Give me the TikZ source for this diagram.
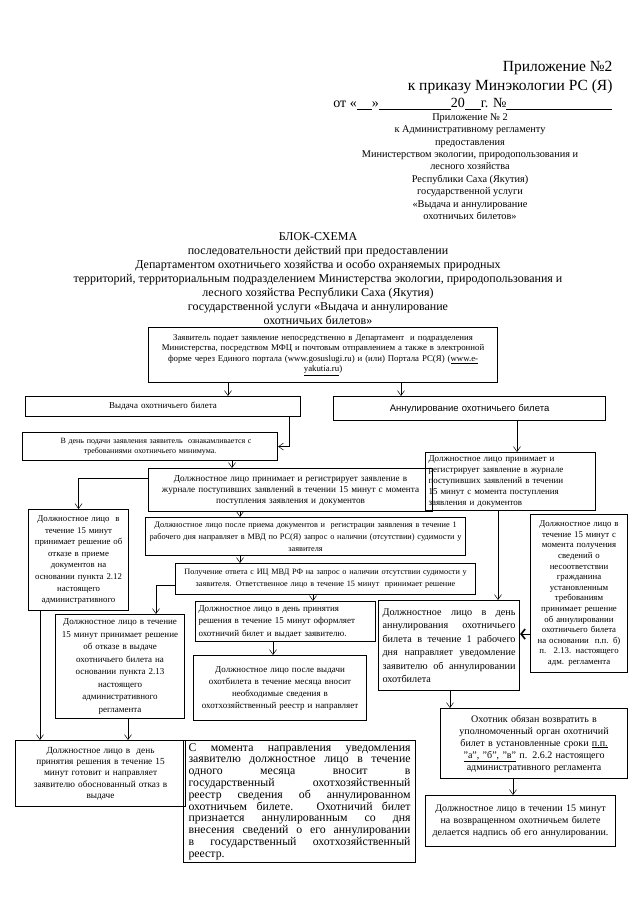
\documentclass[tikz,border=0pt]{standalone}
\usepackage{fontspec}
\setmainfont{Liberation Serif}
\newfontfamily\arialfont{Liberation Sans}
\usetikzlibrary{arrows.meta}

\begin{document}
\begin{tikzpicture}[x=1pt,y=-1pt,
box/.style={draw,line width=1.1pt,inner sep=2pt,anchor=north west,align=center},
arr/.style={-{Straight Barb[length=5pt,width=7pt]},line width=0.5pt},
boldarr/.style={-{Straight Barb[length=4pt,width=10pt,line width=1.6pt]},line width=0.8pt}]
\useasboundingbox (0,0) rectangle (640,898);

% header
\node[anchor=east,font=\fontsize{15.5}{18}\selectfont] (pril) at (616,68) {Приложение №2};
\node[anchor=east,font=\fontsize{15.5}{18}\selectfont] (prikaz) at (616,87) {к приказу Минэкологии РС (Я)};
\node[anchor=east,font=\fontsize{14}{16}\selectfont] (ot) at (616,104)
  {от «\underline{\hspace{15pt}}»\underline{\hspace{72pt}}20\underline{\hspace{16pt}}г. №\underline{\hspace{106pt}}};
\node[anchor=north,align=center,font=\fontsize{10.3}{12.4}\selectfont] (reglament) at (470,110)
  {Приложение № 2\\к Административному регламенту\\предоставления\\Министерством экологии, природопользования и\\лесного хозяйства\\Республики Саха (Якутия)\\государственной услуги\\«Выдача и аннулирование\\охотничьих билетов»};

% title
\node[anchor=north,align=center,font=\fontsize{12}{14}\selectfont] (title) at (318,229)
  {БЛОК-СХЕМА\\последовательности действий при предоставлении\\Департаментом охотничьего хозяйства и особо охраняемых природных\\территорий, территориальным подразделением Министерства экологии, природопользования и\\лесного хозяйства Республики Саха (Якутия)\\государственной услуги «Выдача и аннулирование\\охотничьих билетов»};

% boxes
\node[box,minimum width=349,minimum height=55,text width=343pt,font=\fontsize{8.8}{10.5}\selectfont] (zayav) at (148,327)
  {Заявитель подает заявление непосредственно в Департамент \ и подразделения\\Министерства, посредством МФЦ и почтовым отправлением а также в электронной\\форме через Единого портала (www.gosuslugi.ru) и (или) Портала РС(Я) (\underline{www.e-}\\\underline{yakutia.ru})};
\node[box,minimum width=275,minimum height=20,text width=269pt,font=\fontsize{9}{11}\selectfont] (vydacha) at (25,396) {Выдача охотничьего билета};
\node[box,minimum width=272,minimum height=24,text width=266pt,font=\fontsize{9.5}{11}\arialfont] (annul) at (333,396) {Аннулирование охотничьего билета};
\node[box,minimum width=255,minimum height=28,text width=249pt,font=\fontsize{8}{10}\selectfont] (vden) at (22,432)
  {\hspace*{12pt}В день подачи заявления заявитель \ ознакамливается с\\требованиями охотничьего минимума.\hspace*{20pt}};
\node[box,minimum width=284,minimum height=43,text width=278pt,font=\fontsize{9.2}{11}\selectfont] (reg) at (148,468)
  {Должностное лицо принимает и регистрирует заявление в\\журнале поступивших заявлений в течении 15 минут с момента\\поступления заявления и документов};
\node[box,align=left,minimum width=170,minimum height=58,text width=164pt,font=\fontsize{9}{11}\selectfont] (regR) at (425,452)
  {Должностное лицо принимает и\\регистрирует заявление в журнале\\поступивших заявлений в течении\\15 минут с момента поступления\\заявления и документов};
\node[box,minimum width=100,minimum height=101,text width=94pt,font=\fontsize{8.8}{11.6}\selectfont] (otkazPriem) at (28,509)
  {Должностное лицо \ в\\течение 15 минут\\принимает решение об\\отказе в приеме\\документов на\\основании пункта 2.12\\настоящего\\административного};
\node[box,minimum width=320,minimum height=38,text width=314pt,font=\fontsize{8.3}{12}\selectfont] (posle) at (145,517)
  {Должностное лицо после приема документов и \ регистрации заявления в течение 1\\рабочего дня направляет в МВД по РС(Я) запрос о наличии (отсутствии) судимости у\\заявителя};
\node[box,minimum width=97,minimum height=158,text width=91pt,font=\fontsize{8.8}{10.6}\selectfont] (tallR) at (530,514)
  {Должностное лицо в\\течение 15 минут с\\момента получения\\сведений о\\несоответствии\\гражданина\\установленным\\требованиям\\принимает решение\\об аннулировании\\охотничьего билета\\на основании \ п.п. б)\\п. \ 2.13. настоящего\\адм. регламента};
\node[box,minimum width=300,minimum height=31,text width=294pt,font=\fontsize{8.2}{12}\selectfont] (otvet) at (175,563)
  {Получение ответа с ИЦ МВД РФ на запрос о наличии отсутствии судимости у\\заявителя. Ответственное лицо в течение 15 минут \ принимает решение};
\node[box,minimum width=129,minimum height=104,text width=123pt,font=\fontsize{9}{12.5}\selectfont] (otkazVyd) at (55,614)
  {Должностное лицо в течение\\15 минут принимает решение\\об отказе в выдаче\\охотничьего билета на\\основании пункта 2.13\\настоящего\\административного\\регламента};
\node[box,align=left,minimum width=180,minimum height=40,text width=174pt,font=\fontsize{9}{12.5}\selectfont] (oform) at (195,601)
  {Должностное лицо в день принятия\\решения в течение 15 минут оформляет\\охотничий билет и выдает заявителю.};
\node[box,align=justify,minimum width=141,minimum height=90,inner xsep=4pt,text width=133pt,font=\fontsize{10.2}{13.5}\selectfont] (annulDay) at (378,600)
  {Должностное лицо в день\linebreak аннулирования охотничьего\linebreak билета в течение 1 рабочего\linebreak дня направляет уведомление\linebreak заявителю об аннулировании\linebreak охотбилета};
\node[box,minimum width=173,minimum height=65,text width=167pt,font=\fontsize{9}{12}\selectfont] (posleVyd) at (193,655)
  {Должностное лицо после выдачи\\охотбилета в течение месяца вносит\\необходимые сведения в\\охотхозяйственный реестр и направляет};
\node[box,minimum width=187,minimum height=70,text width=181pt,font=\fontsize{10}{12}\selectfont] (ohotnik) at (440,708)
  {Охотник обязан возвратить в\\уполномоченный орган охотничий\\билет в установленные сроки \underline{п.п.}\\\underline{"а", "б", "в"} п. 2.6.2 настоящего\\административного регламента};
\node[box,minimum width=170,minimum height=66,text width=164pt,font=\fontsize{9.3}{11.3}\selectfont] (bl) at (15,740)
  {Должностное лицо в \ день\\принятия решения в течение 15\\минут готовит и направляет\\заявителю обоснованный отказ в\\выдаче};
\node[box,align=justify,minimum width=232,minimum height=122,inner xsep=5pt,text width=222pt,font=\fontsize{11.8}{11.8}\selectfont] (smoment) at (183,740)
  {С момента направления уведомления\linebreak заявителю должностное лицо в течение\linebreak одного месяца вносит в\linebreak государственный охотхозяйственный\linebreak реестр сведения об аннулированном\linebreak охотничьем билете. Охотничий билет\linebreak признается аннулированным со дня\linebreak внесения сведений о его аннулировании\linebreak в государственный охотхозяйственный\linebreak реестр.};
\node[box,minimum width=190,minimum height=51,text width=184pt,font=\fontsize{10}{12}\selectfont] (br) at (425,795)
  {Должностное лицо в течении 15 минут\\на возвращенном охотничьем билете\\делается надпись об его аннулировании.};

% connectors
\draw[arr] ([xshift=80pt]zayav.south west) -- ([xshift=80pt]zayav.south west |- vydacha.north);
\draw[arr] ([xshift=253pt]zayav.south west) -- ([xshift=253pt]zayav.south west |- annul.north);
\draw[arr] ([xshift=-12pt]vydacha.south east) |- (vden.east);
\draw[arr] ([xshift=210pt]vden.south west) -- ([xshift=210pt]vden.south west |- reg.north);
\draw[arr] ([yshift=-10pt]reg.north west) -| (otkazPriem.north);
\draw[arr] ([xshift=92pt]reg.south west) -- ([xshift=92pt]reg.south west |- posle.north);
\draw[arr] ([xshift=95pt]posle.south west) -- ([xshift=95pt]posle.south west |- otvet.north);
\draw[arr] ([yshift=-22pt]otvet.north west) -| ([xshift=101pt]otkazVyd.north west);
\draw[arr] ([xshift=138pt]otvet.south west) -- ([xshift=138pt]otvet.south west |- oform.north);
\draw[arr] ([xshift=78pt]oform.south west) -- ([xshift=78pt]oform.south west |- posleVyd.north);
\draw[arr] ([xshift=12pt]otkazPriem.south west) -- ([xshift=12pt]otkazPriem.south west |- bl.north);
\draw[arr] ([xshift=73pt]otkazVyd.south west) -- ([xshift=73pt]otkazVyd.south west |- bl.north);
\draw[arr] ([xshift=184pt]annul.south west) -- ([xshift=184pt]annul.south west |- regR.north);
\draw[arr] ([xshift=73pt]regR.south west) -- ([xshift=73pt]regR.south west |- annulDay.north);
\draw[boldarr] ([yshift=-120pt]tallR.north west) -- ([yshift=-120pt]tallR.north west -| annulDay.east);
\draw[arr] ([xshift=72pt]annulDay.south west) -- ([xshift=72pt]annulDay.south west |- ohotnik.north);
\draw[arr] ([xshift=73pt]ohotnik.south west) -- ([xshift=73pt]ohotnik.south west |- br.north);
\end{tikzpicture}
\end{document}
